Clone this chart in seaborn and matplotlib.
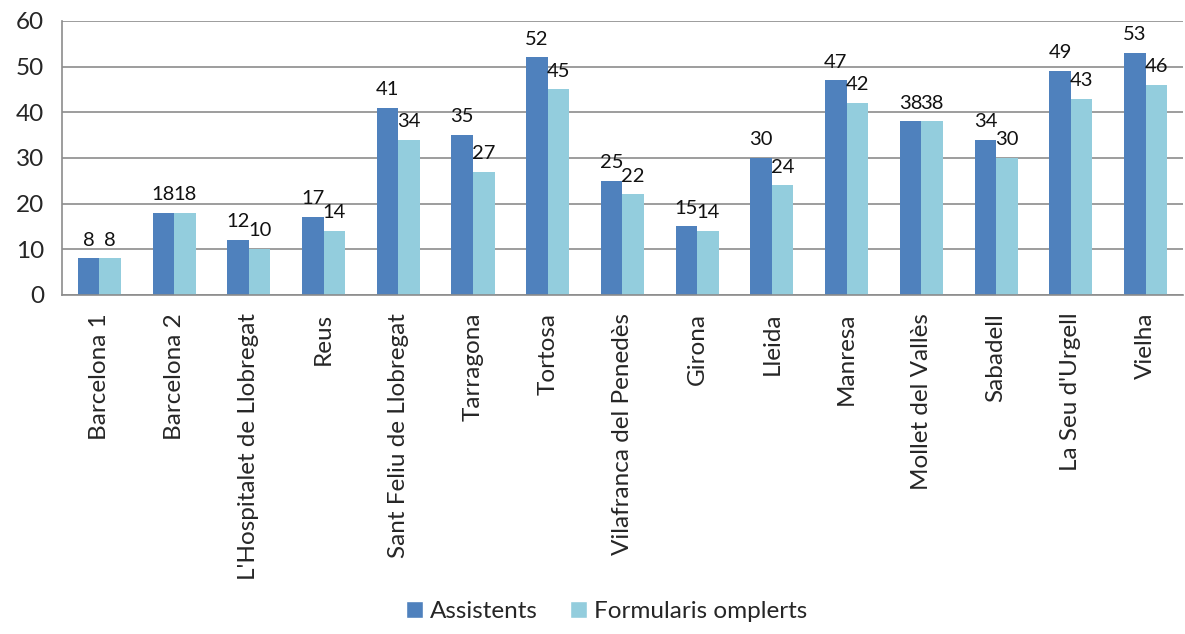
import matplotlib
matplotlib.use("Agg")
import matplotlib.pyplot as plt
import seaborn as sns
import pandas as pd
from matplotlib.patches import Patch

# data
centres = ["Barcelona 1", "Barcelona 2", "L'Hospitalet de Llobregat", "Reus",
           "Sant Feliu de Llobregat", "Tarragona", "Tortosa", "Vilafranca del Penedès",
           "Girona", "Lleida", "Manresa", "Mollet del Vallès", "Sabadell",
           "La Seu d'Urgell", "Vielha"]
assistents = [8, 18, 12, 17, 41, 35, 52, 25, 15, 30, 47, 38, 34, 49, 53]
formularis = [8, 18, 10, 14, 34, 27, 45, 22, 14, 24, 42, 38, 30, 43, 46]
series = ["Assistents", "Formularis omplerts"]
colors = ["#4F81BD", "#93CDDD"]

df = pd.DataFrame({
    "centre": centres * 2,
    "serie": [series[0]] * len(centres) + [series[1]] * len(centres),
    "valor": assistents + formularis,
})

sns.set_style("white")
plt.rcParams["font.family"] = ["Lato", "DejaVu Sans"]

fig = plt.figure(figsize=(11.85, 6.34), dpi=100)
ax = fig.add_axes([0.0523, 0.535, 0.946, 0.432])

sns.barplot(data=df, x="centre", y="valor", hue="serie", palette=colors,
            width=0.576, gap=0, saturation=1, linewidth=0, ax=ax, legend=False)

for cont in ax.containers:
    ax.bar_label(cont, padding=7, fontsize=14.5, color="#111111")

ax.set_ylim(0, 60)
ax.set_yticks(range(0, 61, 10))
ax.set_xlim(-0.5, len(centres) - 0.5)
ax.yaxis.grid(True, color="#8c8c8c", linewidth=1.2)
ax.set_axisbelow(True)
ax.set_xlabel("")
ax.set_ylabel("")

for side in ["top", "right"]:
    ax.spines[side].set_visible(False)
for side in ["left", "bottom"]:
    ax.spines[side].set_color("#8c8c8c")
    ax.spines[side].set_linewidth(1.2)

# tick marks between categories, like the original
ax.set_xticks([i - 0.5 for i in range(len(centres) + 1)], minor=False)
ax.set_xticklabels([])
ax.set_xticks(range(len(centres)), minor=True)
ax.set_xticklabels(centres, minor=True, rotation=90, fontsize=17.5)
ax.tick_params(axis="x", which="major", length=8, width=1.2, color="#8c8c8c", direction="out")
ax.tick_params(axis="x", which="minor", length=0, pad=13)
ax.tick_params(axis="y", length=8, width=1.2, color="#8c8c8c", direction="out",
               labelsize=17.5, pad=5)

handles = [Patch(facecolor=c, label=s) for c, s in zip(colors, series)]
fig.legend(handles=handles, loc="lower center", bbox_to_anchor=(0.512, -0.016), ncol=2,
           frameon=False, fontsize=17.5, handlelength=0.7, handleheight=0.7,
           handletextpad=0.3, columnspacing=1.3)

fig.savefig("out.png", dpi=100)
